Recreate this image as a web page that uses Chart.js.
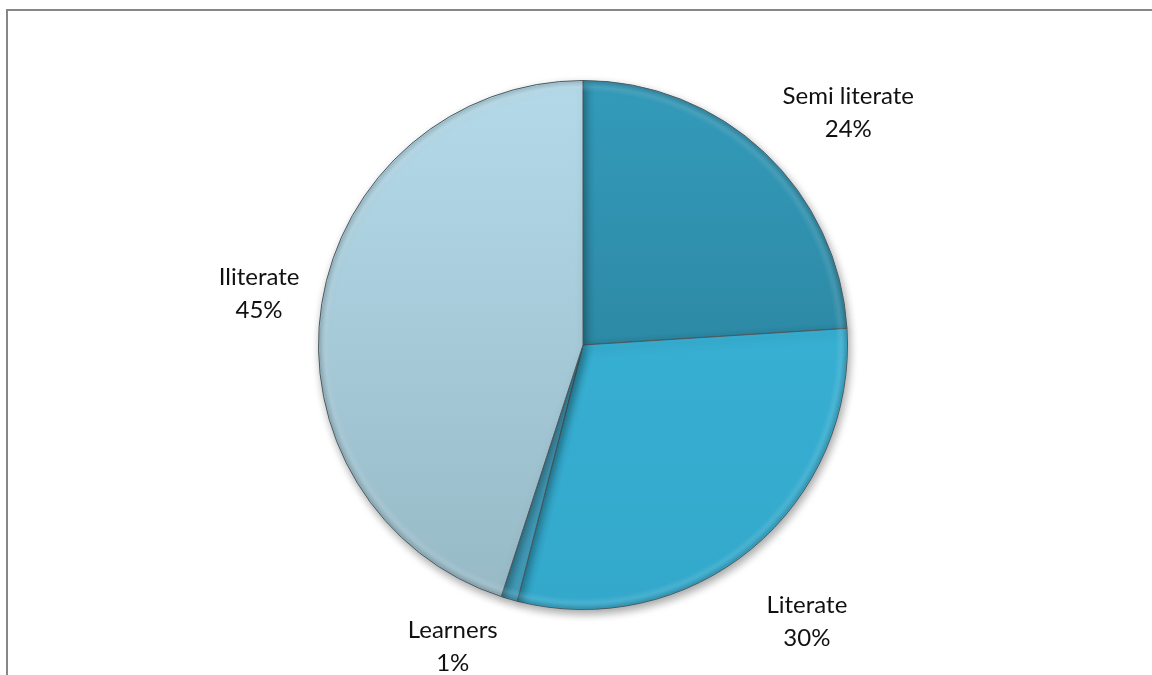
<!DOCTYPE html>
<html>
<head>
<meta charset="utf-8">
<script src="https://cdn.jsdelivr.net/npm/chart.js@4"></script>
<style>
  html, body { margin: 0; padding: 0; background: #ffffff; }
  #wrap { position: relative; width: 1152px; height: 675px; overflow: hidden; }
  #frame {
    position: absolute; left: 6px; top: 9px; width: 1200px; height: 700px;
    border-left: 2px solid #878787; border-top: 2px solid #878787;
  }
  canvas { position: absolute; left: 0; top: 0; }
</style>
</head>
<body>
<div id="wrap">
  <div id="frame"></div>
  <canvas id="c" width="1152" height="675"></canvas>
</div>
<script>
// Literacy levels, clockwise from 12 o'clock
const categories = ['Semi literate', 'Literate', 'Learners', 'Iliterate'];
const shares = [24, 30, 1, 45];

// Slice colours: [top tone, bottom tone]
const sliceTones = [
  ['#339bbb', '#28788f'],
  ['#3bb6d9', '#33a8cb'],
  ['#55b3d0', '#3f9bb8'],
  ['#b4dae9', '#97b9c6']
];

// Label placement around each slice: radial factor and angle nudge (degrees)
const labelPlacement = [
  { f: 1.335, da: 5.5 },
  { f: 1.345, da: 0.6 },
  { f: 1.24, da: 7.2 },
  { f: 1.24, da: 0 }
];

function sliceFill(ctx) {
  const chart = ctx.chart;
  const area = chart.chartArea;
  const tones = sliceTones[ctx.dataIndex];
  if (!area) return tones[0];
  const g = chart.ctx.createLinearGradient(0, area.top, 0, area.bottom);
  g.addColorStop(0, tones[0]);
  g.addColorStop(1, tones[1]);
  return g;
}

const shadowPlugin = {
  id: 'pieShadow',
  beforeDatasetsDraw(chart) {
    const c = chart.ctx;
    c.save();
    c.shadowColor = 'rgba(0,0,0,0.35)';
    c.shadowBlur = 9;
    c.shadowOffsetX = 2;
    c.shadowOffsetY = 4;
  },
  afterDatasetsDraw(chart) {
    chart.ctx.restore();
  }
};

// Rim shading that gives each slice a bevelled edge
const bevelPlugin = {
  id: 'bevel',
  afterDatasetsDraw(chart) {
    const meta = chart.getDatasetMeta(0);
    const c = chart.ctx;
    meta.data.forEach((arc) => {
      const p = arc.getProps(['x', 'y', 'startAngle', 'endAngle', 'outerRadius']);
      const r = p.outerRadius;
      c.save();
      c.beginPath();
      c.moveTo(p.x, p.y);
      c.arc(p.x, p.y, r - 1, p.startAngle, p.endAngle);
      c.closePath();
      c.clip();
      const g = c.createRadialGradient(p.x, p.y, r - 12, p.x, p.y, r);
      g.addColorStop(0, 'rgba(255,255,255,0)');
      g.addColorStop(0.45, 'rgba(255,255,255,0.10)');
      g.addColorStop(1, 'rgba(0,0,0,0.18)');
      c.fillStyle = g;
      c.fillRect(p.x - r, p.y - r, 2 * r, 2 * r);
      c.restore();
    });
  }
};

const labelPlugin = {
  id: 'sliceLabels',
  afterDraw(chart) {
    const meta = chart.getDatasetMeta(0);
    const c = chart.ctx;
    const total = shares.reduce((a, b) => a + b, 0);
    c.save();
    c.font = '24px Lato, "Open Sans", sans-serif';
    c.fillStyle = '#111111';
    c.textAlign = 'center';
    c.textBaseline = 'middle';
    meta.data.forEach((arc, i) => {
      const p = arc.getProps(['x', 'y', 'startAngle', 'endAngle', 'outerRadius']);
      const place = labelPlacement[i];
      const mid = (p.startAngle + p.endAngle) / 2 + place.da * Math.PI / 180;
      const d = p.outerRadius * place.f;
      const lx = p.x + Math.cos(mid) * d;
      const ly = p.y + Math.sin(mid) * d;
      const pct = Math.round(shares[i] / total * 100) + '%';
      c.fillText(categories[i], lx, ly - 16);
      c.fillText(pct, lx, ly + 17);
    });
    c.restore();
  }
};

new Chart(document.getElementById('c'), {
  type: 'pie',
  data: {
    labels: categories,
    datasets: [{
      data: shares,
      backgroundColor: sliceFill,
      borderColor: '#4b5a60',
      borderWidth: 1
    }]
  },
  options: {
    responsive: false,
    animation: false,
    rotation: 0,
    layout: { padding: { top: 80, bottom: 65, left: 318, right: 304 } },
    plugins: {
      legend: { display: false },
      tooltip: { enabled: false },
      title: { display: false }
    }
  },
  plugins: [shadowPlugin, bevelPlugin, labelPlugin]
});
</script>
</body>
</html>
